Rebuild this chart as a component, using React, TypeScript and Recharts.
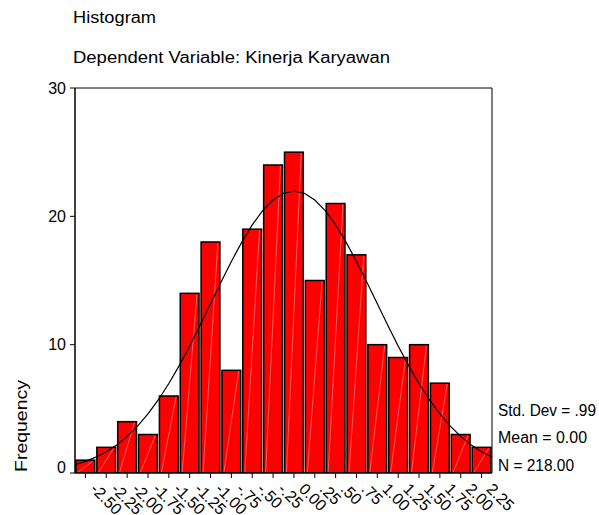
import React from 'react';
import { ComposedChart, Bar, Line, XAxis, YAxis, ReferenceLine } from 'recharts';

// ---- data ----
const binLabels = ['-2.50', '-2.25', '-2.00', '-1.75', '-1.50', '-1.25', '-1.00', '-.75', '-.50', '-.25', '0.00', '.25', '.50', '.75', '1.00', '1.25', '1.50', '1.75', '2.00', '2.25'];
const frequencies = [1, 2, 4, 3, 6, 14, 18, 8, 19, 24, 25, 15, 21, 17, 10, 9, 10, 7, 3, 2];

// normal curve (x in the bins' units, y in frequency)
const curveX = [-2.625, -2.5, -2.375, -2.25, -2.125, -2.0, -1.875, -1.75, -1.625, -1.5, -1.375, -1.25, -1.125, -1.0, -0.875, -0.75, -0.625, -0.5, -0.375, -0.25, -0.125, 0, 0.125, 0.25, 0.375, 0.5, 0.625, 0.75, 0.875, 1.0, 1.125, 1.25, 1.375, 1.5, 1.625, 1.75, 1.875, 2.0, 2.125, 2.25, 2.375];
const curveY = [0.65, 0.91, 1.24, 1.66, 2.19, 2.85, 3.65, 4.6, 5.71, 6.97, 8.37, 9.9, 11.52, 13.19, 14.86, 16.48, 17.99, 19.33, 20.44, 21.27, 21.79, 21.96, 21.79, 21.27, 20.44, 19.33, 17.99, 16.48, 14.86, 13.19, 11.52, 9.9, 8.37, 6.97, 5.71, 4.6, 3.65, 2.85, 2.19, 1.66, 1.24];
const curveDomain = [-2.625, 2.375];

const yTicks = [0, 10, 20, 30];
const titleLines = ['Histogram', 'Dependent Variable: Kinerja Karyawan'];
const yAxisTitle = 'Frequency';
const statLines = ['Std. Dev = .99', 'Mean = 0.00', 'N = 218.00'];

const barData = binLabels.map((label, i) => ({ label, count: frequencies[i] }));
const curveData = curveX.map((x, i) => ({ x, y: curveY[i] }));

// ---- layout ----
const W = 599;
const H = 515;
const PLOT_LEFT = 75;
const PLOT_RIGHT = 492;
const PLOT_TOP = 88;
const PLOT_BOTTOM = 473;
const FONT = '"Liberation Sans", Arial, Helvetica, sans-serif';

const XTick = (props: any) => {
  const { x, y, payload } = props;
  return (
    <text
      transform={`translate(${x + 4},${y + 12}) rotate(45)`}
      fontSize={16}
      fontFamily={FONT}
      fill="#000"
      textAnchor="start"
    >
      {payload.value}
    </text>
  );
};

const YTick = (props: any) => {
  const { x, y, payload } = props;
  const dy = payload.value === 0 ? 0 : 5.7;
  return (
    <text x={x} y={y + dy} fontSize={16} fontFamily={FONT} fill="#000" textAnchor="end">
      {payload.value}
    </text>
  );
};

const HistBar = (props: any) => {
  const { x, y, width, height } = props;
  if (height == null || height <= 0) return null;
  return (
    <g>
      <rect x={x} y={y} width={width} height={height} fill="#FF0000" stroke="#000" strokeWidth={1.5} />
      <line
        x1={x + 2}
        y1={y + height - 1}
        x2={x + width - 2}
        y2={y + 1}
        stroke="#ffffff"
        strokeOpacity={0.45}
        strokeWidth={0.8}
      />
    </g>
  );
};

export default function App() {
  const statWidths = [98, 89, 76];
  const statBaselines = [416, 443, 471];
  return (
    <div style={{ position: 'absolute', left: 0, top: 0, width: W, height: H, background: '#fff' }}>
      <ComposedChart
        width={W}
        height={H}
        data={barData}
        margin={{ top: PLOT_TOP, right: W - PLOT_RIGHT, bottom: 0, left: 0 }}
        barCategoryGap={0}
        barGap={0}
      >
        <XAxis
          xAxisId="cat"
          dataKey="label"
          type="category"
          interval={0}
          height={H - PLOT_BOTTOM}
          tickSize={5}
          tickMargin={0}
          tickLine={{ stroke: '#000', strokeWidth: 1 }}
          axisLine={{ stroke: '#000', strokeWidth: 1.5 }}
          tick={<XTick />}
        />
        <XAxis
          xAxisId="num"
          type="number"
          dataKey="x"
          domain={curveDomain}
          allowDataOverflow
          hide
        />
        <YAxis
          domain={[0, 30]}
          ticks={yTicks}
          width={PLOT_LEFT}
          tickSize={5}
          tickMargin={4}
          tickLine={{ stroke: '#000', strokeWidth: 1 }}
          axisLine={{ stroke: '#000', strokeWidth: 1.5 }}
          tick={<YTick />}
          allowDataOverflow
        />
        <ReferenceLine xAxisId="cat" y={30} stroke="#000" strokeWidth={1} />
        <ReferenceLine xAxisId="num" x={curveDomain[1]} stroke="#000" strokeWidth={1} />
        <Bar
          xAxisId="cat"
          dataKey="count"
          barSize={(PLOT_RIGHT - PLOT_LEFT) / binLabels.length}
          shape={<HistBar />}
          isAnimationActive={false}
        />
        <Line
          xAxisId="num"
          data={curveData}
          dataKey="y"
          type="linear"
          stroke="#000"
          strokeWidth={1.2}
          dot={false}
          activeDot={false}
          isAnimationActive={false}
        />
      </ComposedChart>
      <svg
        width={W}
        height={H}
        style={{ position: 'absolute', left: 0, top: 0, pointerEvents: 'none' }}
      >
        <text x={73} y={23} fontSize={16} fontFamily={FONT} fill="#000" textLength={83} lengthAdjust="spacingAndGlyphs">
          {titleLines[0]}
        </text>
        <text x={73} y={63} fontSize={16} fontFamily={FONT} fill="#000" textLength={317} lengthAdjust="spacingAndGlyphs">
          {titleLines[1]}
        </text>
        <text
          transform="translate(27,472) rotate(-90)"
          fontSize={16}
          fontFamily={FONT}
          fill="#000"
          textLength={92}
          lengthAdjust="spacingAndGlyphs"
        >
          {yAxisTitle}
        </text>
        {statLines.map((s, i) => (
          <text
            key={s}
            x={498}
            y={statBaselines[i]}
            fontSize={16}
            fontFamily={FONT}
            fill="#000"
            textLength={statWidths[i]}
            lengthAdjust="spacingAndGlyphs"
          >
            {s}
          </text>
        ))}
      </svg>
    </div>
  );
}
